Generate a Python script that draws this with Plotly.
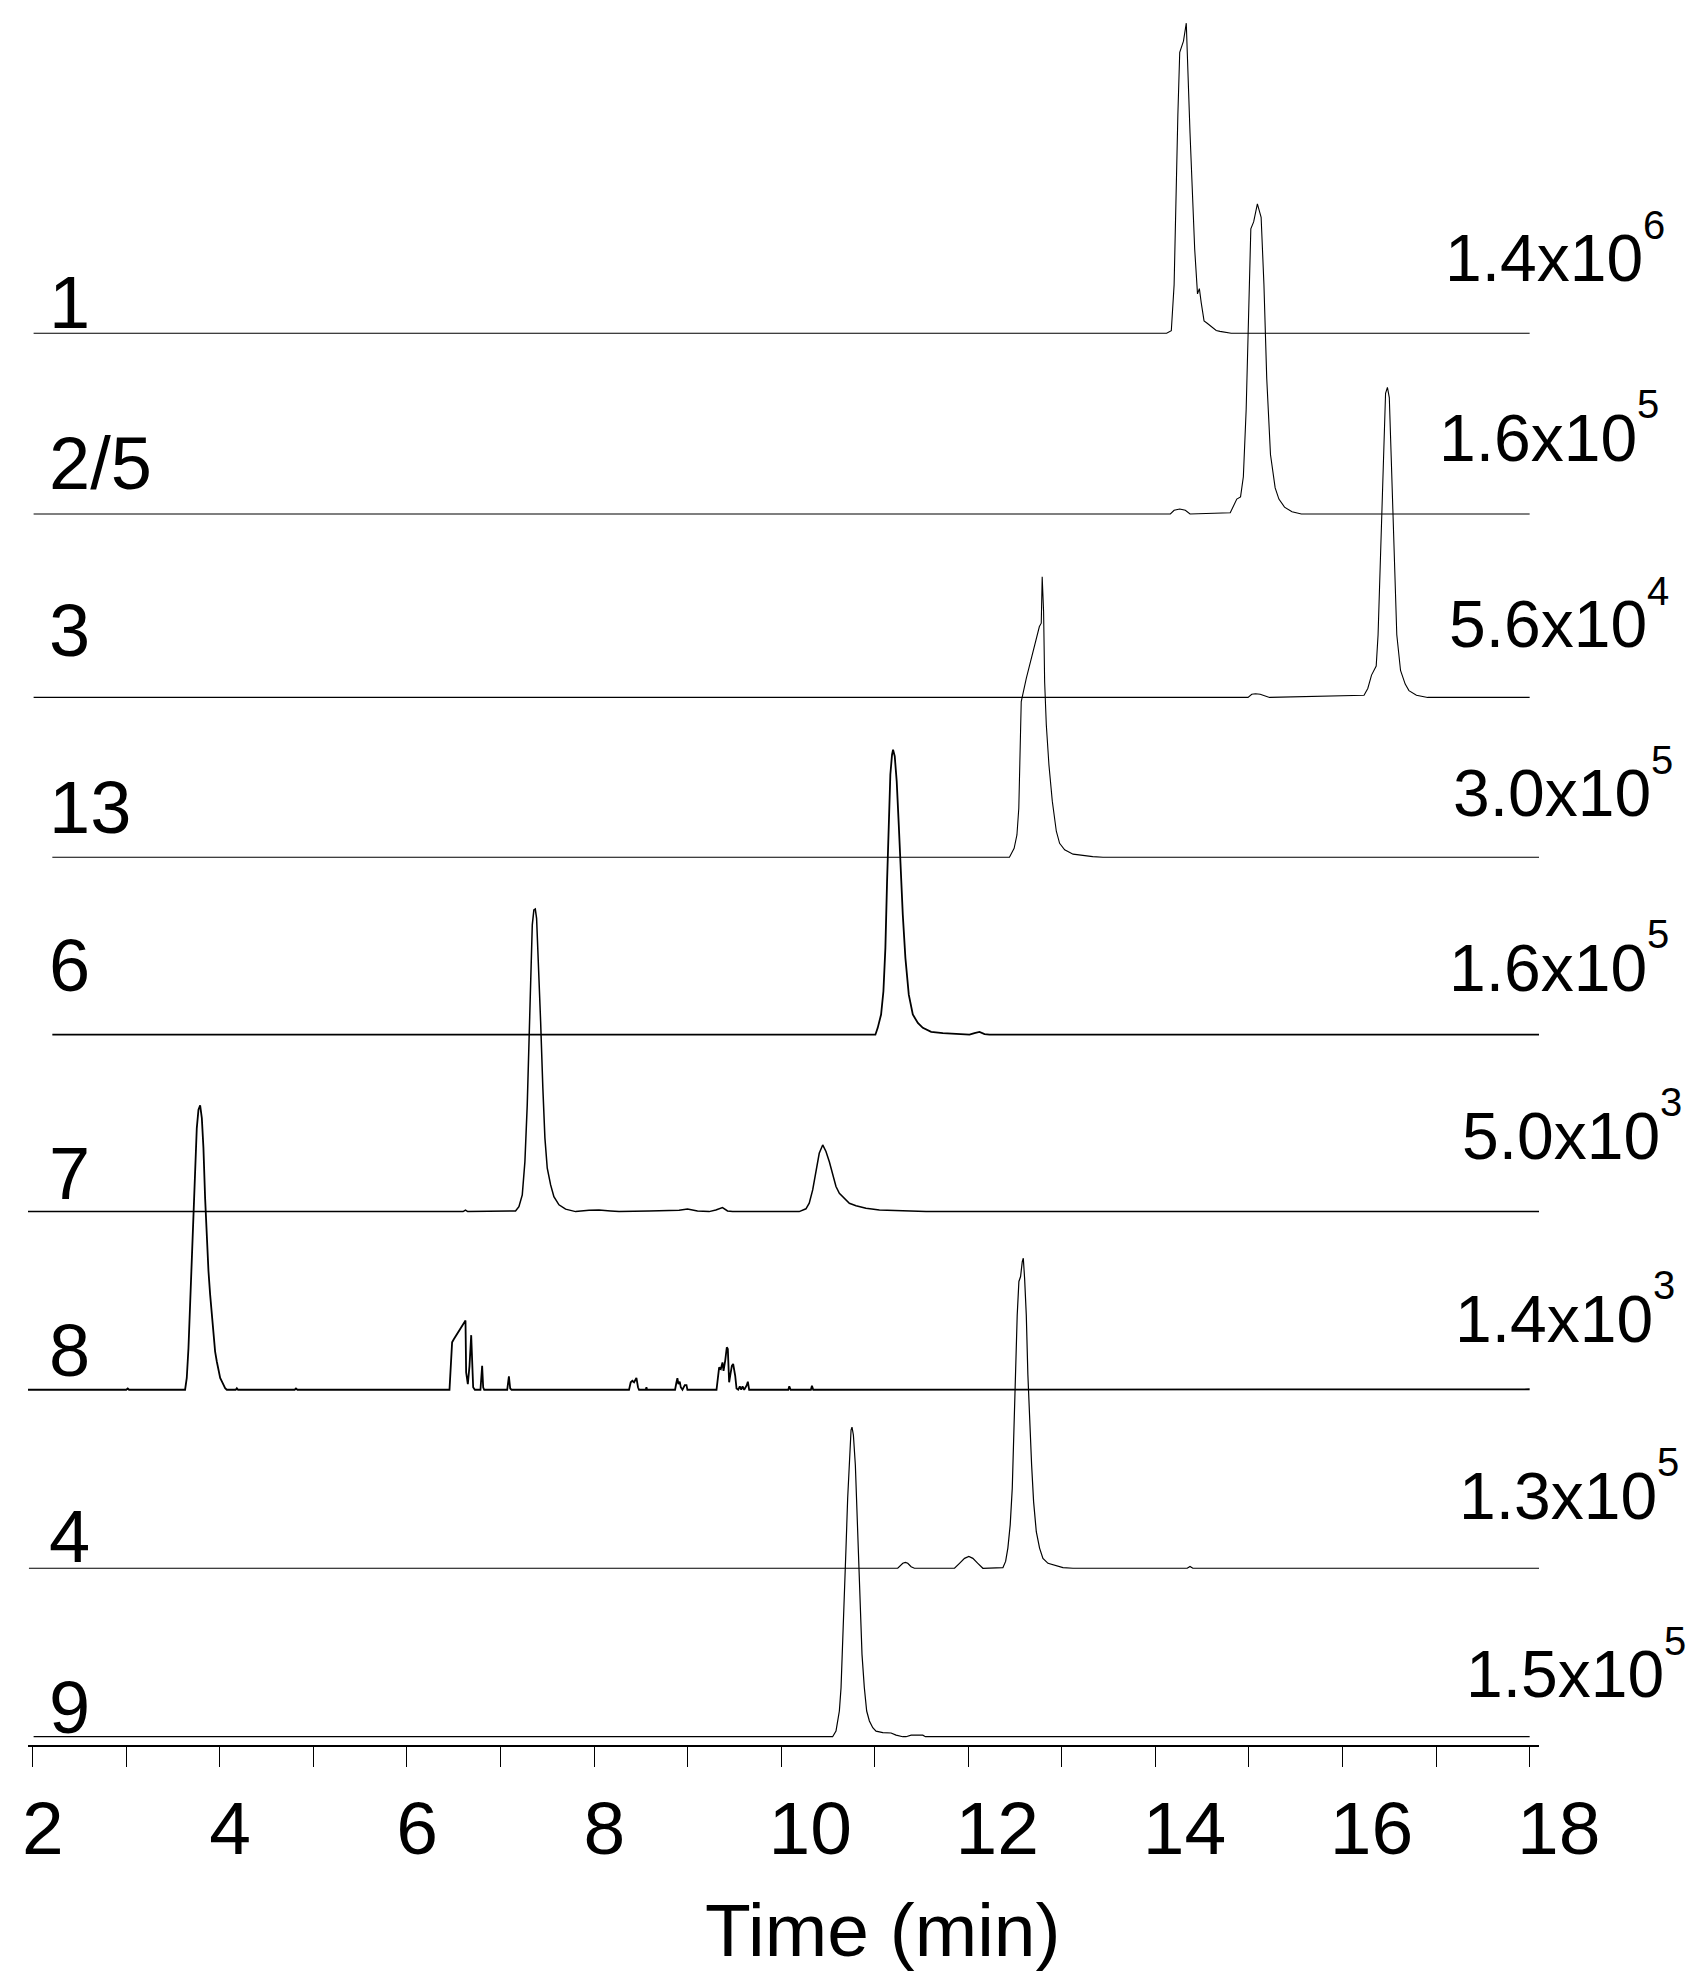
import plotly.graph_objects as go

# ---------------- data ----------------
compound_labels = ["1", "2/5", "3", "13", "6", "7", "8", "4", "9"]
scale_mantissa = ["1.4x10", "1.6x10", "5.6x10", "3.0x10", "1.6x10", "5.0x10", "1.4x10", "1.3x10", "1.5x10"]
scale_exponent = ["6", "5", "4", "5", "5", "3", "3", "5", "5"]

x_tick_values = [2, 3, 4, 5, 6, 7, 8, 9, 10, 11, 12, 13, 14, 15, 16, 17, 18]
x_tick_labels = ["2", "", "4", "", "6", "", "8", "", "10", "", "12", "", "14", "", "16", "", "18"]

# relative intensity (% of full scale) vs retention time (min)
time_1 = [2.01, 14.12, 14.17, 14.20, 14.24, 14.26, 14.30, 14.33, 14.37, 14.42, 14.45, 14.47,
          14.49, 14.52, 14.55, 14.59, 14.65, 14.69, 14.81, 18.0]
int_1 = [0, 0, 0.8, 15.6, 70.4, 90.6, 94.2, 100, 64.6, 27.1, 12.7, 14.4,
         9.8, 4.0, 3.3, 2.3, 0.9, 0.6, 0, 0]

time_25 = [2.01, 14.16, 14.20, 14.26, 14.32, 14.37, 14.80, 14.87, 14.91, 14.94, 14.97, 15.01,
           15.02, 15.05, 15.09, 15.13, 15.16, 15.19, 15.23, 15.28, 15.32, 15.38, 15.46, 15.56, 18.0]
int_25 = [0, 0, 1.2, 1.6, 1.2, 0, 0.4, 4.8, 5.5, 12.0, 33.6, 76.9,
          92.0, 94.2, 100, 95.7, 74.0, 43.7, 19.2, 8.4, 4.8, 2.2, 0.7, 0, 0]

time_3 = [2.01, 14.99, 15.03, 15.07, 15.12, 15.22, 16.23, 16.27, 16.31, 16.36, 16.38, 16.41,
          16.44, 16.46, 16.48, 16.50, 16.52, 16.55, 16.58, 16.62, 16.67, 16.71, 16.79, 16.91, 18.0]
int_3 = [0, 0, 1.0, 1.2, 1.0, 0, 0.7, 2.9, 7.2, 10.1, 20.2, 49.1,
         77.9, 98.1, 100, 96.7, 77.9, 49.1, 20.2, 8.7, 4.3, 2.2, 0.7, 0, 0]

time_13 = [2.21, 12.44, 12.49, 12.52, 12.54, 12.555, 12.566, 12.62, 12.69, 12.76, 12.78, 12.79,
           12.805, 12.816, 12.834, 12.862, 12.898, 12.941, 12.976, 13.03, 13.12, 13.23, 13.33, 13.44, 18.1]
int_13 = [0, 0, 2.9, 7.2, 15.8, 35.2, 50.2, 57.7, 66.3, 74.4, 75.5, 90.5,
          79.2, 56.7, 42.7, 29.8, 18.1, 8.4, 4.5, 2.4, 1.0, 0.5, 0.2, 0, 0]

time_6 = [2.21, 11.007, 11.032, 11.068, 11.093, 11.114, 11.132, 11.150, 11.167, 11.185, 11.196,
          11.214, 11.235, 11.257, 11.274, 11.300, 11.328, 11.364, 11.407, 11.461, 11.514, 11.603,
          11.728, 11.906, 12.013, 12.066, 12.12, 12.174, 12.227, 18.1]
int_6 = [0, 0, 2.2, 6.5, 14.0, 28.0, 49.5, 71.0, 83.9, 90.3, 91.9,
         89.8, 81.7, 67.7, 54.8, 38.7, 24.7, 12.9, 6.5, 3.8, 2.2, 0.9,
         0.5, 0.2, 0, 0.5, 0.9, 0.2, 0, 0]

time_7 = [1.95, 6.60, 6.626, 6.65, 7.161, 7.197, 7.233, 7.261, 7.286, 7.304, 7.322, 7.340,
          7.357, 7.372, 7.386, 7.404, 7.429, 7.453, 7.475, 7.500, 7.536, 7.571, 7.625, 7.696,
          7.803, 7.946, 8.053, 8.178, 8.267, 8.588, 8.731, 8.838, 8.909, 8.999, 9.106, 9.230,
          9.302, 9.373, 9.427, 9.481, 10.193, 10.265, 10.300, 10.337, 10.372, 10.407, 10.444,
          10.479, 10.515, 10.550, 10.586, 10.622, 10.675, 10.729, 10.800, 10.907, 11.050,
          11.228, 11.407, 11.549, 18.1]
int_7 = [0, 0, 0.5, 0, 0.2, 1.6, 5.4, 16.1, 34.4, 55.9, 77.4, 92.5,
         97.3, 97.6, 94.6, 82.8, 61.3, 39.8, 23.7, 14.0, 8.6, 4.8, 2.2, 0.8,
         0, 0.4, 0.5, 0.2, 0, 0.2, 0.2, 0.4, 0.4, 0.8, 0.2, 0,
         0.5, 1.3, 0.2, 0, 0, 0.9, 2.7, 7.0, 12.9, 18.8, 21.5,
         19.4, 16.1, 11.8, 8.1, 5.9, 4.3, 2.7, 1.9, 1.1, 0.5,
         0.4, 0.2, 0, 0]

time_8 = [1.95, 3.00, 3.016, 3.03, 3.629, 3.647, 3.665, 3.683, 3.701, 3.718, 3.736, 3.754,
          3.772, 3.790, 3.808, 3.825, 3.843, 3.861, 3.879, 3.897, 3.915, 3.932, 3.950, 3.968,
          3.986, 4.004, 4.022, 4.039, 4.057, 4.075, 4.17, 4.182, 4.195, 4.80, 4.814, 4.83,
          6.455, 6.483, 6.501, 6.626, 6.633, 6.651, 6.669, 6.687, 6.697, 6.708, 6.726,
          6.786, 6.804, 6.815, 6.826, 7.072, 7.090, 7.104, 7.118,
          8.374, 8.392, 8.410, 8.428, 8.453, 8.470, 8.481, 8.552, 8.560, 8.567,
          8.866, 8.881, 8.891, 8.902, 8.916, 8.927, 8.945, 8.970, 8.988, 8.998,
          9.309, 9.337, 9.355, 9.373, 9.384, 9.402, 9.419, 9.430, 9.444, 9.455, 9.473,
          9.487, 9.509, 9.523, 9.541, 9.558, 9.573, 9.587, 9.605, 9.630, 9.644, 9.658,
          10.076, 10.087, 10.101, 10.318, 10.329, 10.343,
          17.00, 17.04, 17.08, 17.12, 17.16, 17.20, 17.24, 17.28, 17.32, 17.36, 17.40, 17.44,
          17.48, 17.52, 17.56, 17.60, 17.64, 17.68, 17.72, 17.76, 17.80, 17.84, 17.88, 17.92, 18.0]
int_8 = [0, 0, 0.4, 0, 0, 3.8, 13.4, 27.4, 43.5, 57.5, 72.6, 84.4,
         90.3, 91.7, 87.6, 78.0, 61.8, 47.8, 38.2, 30.6, 24.2, 17.7, 12.3, 9.1,
         5.9, 3.8, 2.7, 1.6, 0.5, 0, 0, 0.5, 0, 0, 0.4, 0,
         0, 15.3, 16.3, 22.3, 5.6, 1.8, 7.7, 17.6, 7.7, 0.8, 0,
         0, 7.7, 0.8, 0, 0, 4.3, 0.4, 0,
         0, 2.4, 2.9, 2.4, 3.8, 0.8, 0, 0, 0.8, 0,
         0, 2.4, 3.7, 1.8, 2.6, 0.8, 0, 1.5, 1.5, 0,
         0, 7.2, 6.7, 8.8, 6.1, 9.4, 13.7, 13.1, 2.4, 4.5, 7.7,
         8.3, 4.5, 0.4, 0, 1.1, 0, 1.1, 0, 1.3, 2.6, 0,
         0, 1.1, 0, 0, 1.3, 0,
         0, 0.15, 0, 0.15, 0, 0.15, 0, 0.15, 0, 0.15, 0, 0.15,
         0, 0.15, 0, 0.15, 0, 0.15, 0, 0.15, 0, 0.15, 0, 0.15, 0.15]

time_4 = [1.96, 11.246, 11.300, 11.328, 11.353, 11.389, 11.424, 11.853, 11.906, 11.960, 12.006,
          12.049, 12.102, 12.156, 12.370, 12.399, 12.423, 12.448, 12.470, 12.488, 12.505, 12.523,
          12.541, 12.559, 12.577, 12.588, 12.602, 12.620, 12.637, 12.655, 12.677, 12.698, 12.727,
          12.762, 12.798, 12.852, 12.923, 13.012, 13.119, 14.34, 14.37, 14.40, 18.1]
int_4 = [0, 0, 1.6, 1.9, 1.6, 0.5, 0, 0, 1.6, 3.2, 3.8,
         3.2, 1.6, 0, 0.2, 2.2, 6.5, 14.0, 25.8, 44.1, 65.6, 81.7,
         92.5, 94.1, 98.9, 100, 93.5, 81.7, 62.4, 47.3, 33.3, 21.5, 11.8,
         6.5, 3.2, 1.6, 0.9, 0.2, 0, 0, 0.6, 0, 0]

time_9 = [2.01, 10.550, 10.586, 10.622, 10.640, 10.657, 10.675, 10.693, 10.711, 10.729, 10.747,
          10.757, 10.772, 10.793, 10.811, 10.829, 10.847, 10.864, 10.889, 10.914, 10.943, 10.979,
          11.014, 11.086, 11.175, 11.228, 11.300, 11.335, 11.389, 11.514, 11.542, 18.0]
int_9 = [0, 0, 1.8, 8.3, 15.8, 28.7, 44.8, 61.0, 77.1, 91.1, 99.1,
         100, 97.5, 87.8, 71.7, 55.6, 39.5, 26.6, 15.8, 8.3, 5.1, 2.9,
         1.8, 1.3, 1.2, 0.5, 0, 0, 0.5, 0.5, 0, 0]

series_times = [time_1, time_25, time_3, time_13, time_6, time_7, time_8, time_4, time_9]
series_ints = [int_1, int_25, int_3, int_13, int_6, int_7, int_8, int_4, int_9]

# ---------------- layout (pixels) ----------------
W, H = 1696, 1984
X_LO, X_HI = 1.95, 18.1
PX_PER_MIN = 93.53
X2_PX = 25.0                      # pixel column of t = 2 min
M_L = X2_PX - (2 - X_LO) * PX_PER_MIN
PLOT_W = (X_HI - X_LO) * PX_PER_MIN
M_R = W - M_L - PLOT_W
AXIS_PX = 1737.7                  # pixel row of the time axis line
M_T, M_B = 0, H - AXIS_PX
PLOT_H = H - M_T - M_B
PX_PER_UNIT = 3.1                 # pixels per % of full scale
Y_LO, Y_HI = -3, 103
FONT = "Liberation Sans, Arial, sans-serif"

baseline_px = [325.2, 505.9, 689.3, 849.1, 1026.5, 1203.4, 1381.5, 1560.0, 1729.0]
line_widths = [1.1, 1.1, 1.1, 1.1, 1.8, 1.5, 1.8, 1.2, 1.2]

LEFT_SIZE, RIGHT_SIZE, SUP_SIZE, TICK_SIZE, TITLE_SIZE = 74, 66, 40, 75, 75
LEFT_LABEL_X = 41
left_label_rise = [4.6, 25, 41, 24, 43, 12, 13, 6, 4]
right_label_left_px = [1437, 1431, 1441, 1445, 1441, 1454, 1447, 1451, 1458]
right_label_rise = [52, 53, 50, 41, 44, 53, 48, 49.5, 40]
SUP_GAP = 0
SUP_RAISE = 43
TITLE_X, TITLE_BASE = 875, 1948


def paper_y(px):
    return (M_T + PLOT_H - px) / PLOT_H


def paper_x(px):
    return (px - M_L) / PLOT_W


def text_bottom(baseline_row, size):
    # paper y of an annotation box bottom whose text baseline sits on baseline_row
    return paper_y(baseline_row + 0.212 * size)


fig = go.Figure()
layout_axes = {}
annotations = []
n = len(compound_labels)
mantissa_width = 3.0 * RIGHT_SIZE   # advance of "d.dx10" in Arial metrics
for k in range(n):
    ax_id = "y" if k == n - 1 else "y%d" % (n - k)
    ax_key = "yaxis" if k == n - 1 else "yaxis%d" % (n - k)
    fig.add_trace(go.Scatter(
        x=series_times[k], y=series_ints[k], xaxis="x", yaxis=ax_id,
        mode="lines", line=dict(color="black", width=line_widths[k]),
        showlegend=False, hoverinfo="skip"))
    b = baseline_px[k]
    dom_bottom = max(0.0, paper_y(b - Y_LO * PX_PER_UNIT))
    dom_top = min(1.0, paper_y(b - Y_HI * PX_PER_UNIT))
    layout_axes[ax_key] = dict(domain=[dom_bottom, dom_top], range=[Y_LO, Y_HI],
                               visible=False, anchor="x", fixedrange=True)
    annotations.append(dict(
        text=compound_labels[k], xref="paper", yref="paper",
        x=paper_x(LEFT_LABEL_X), y=text_bottom(b - left_label_rise[k], LEFT_SIZE),
        xanchor="left", yanchor="bottom", showarrow=False,
        borderpad=0, borderwidth=0,
        font=dict(family=FONT, size=LEFT_SIZE, color="black")))
    annotations.append(dict(
        text=scale_mantissa[k], xref="paper", yref="paper",
        x=paper_x(right_label_left_px[k]), y=text_bottom(b - right_label_rise[k], RIGHT_SIZE),
        xanchor="left", yanchor="bottom", showarrow=False,
        borderpad=0, borderwidth=0,
        font=dict(family=FONT, size=RIGHT_SIZE, color="black")))
    annotations.append(dict(
        text=scale_exponent[k], xref="paper", yref="paper",
        x=paper_x(right_label_left_px[k] + mantissa_width + SUP_GAP),
        y=text_bottom(b - right_label_rise[k] - SUP_RAISE, SUP_SIZE),
        xanchor="left", yanchor="bottom", showarrow=False,
        borderpad=0, borderwidth=0,
        font=dict(family=FONT, size=SUP_SIZE, color="black")))

# axis title
annotations.append(dict(
    text="Time (min)", xref="paper", yref="paper",
    x=paper_x(TITLE_X), y=text_bottom(TITLE_BASE, TITLE_SIZE),
    xanchor="center", yanchor="bottom", showarrow=False,
    borderpad=0, borderwidth=0,
    font=dict(family=FONT, size=TITLE_SIZE, color="black")))

# one-digit labels get a trailing en space so labels start just left of their tick
tick_text = [t + "\u2002" if len(t) == 1 else t for t in x_tick_labels]

fig.update_layout(
    width=W, height=H,
    margin=dict(l=M_L, r=M_R, t=M_T, b=M_B, pad=0),
    paper_bgcolor="white", plot_bgcolor="rgba(0,0,0,0)",
    showlegend=False,
    xaxis=dict(
        domain=[0, 1], range=[X_LO, X_HI], anchor="free", position=0,
        showline=True, linecolor="black", linewidth=2.2,
        showgrid=False, zeroline=False,
        ticks="outside", ticklen=20, tickwidth=1.2, tickcolor="black",
        tickmode="array", tickvals=x_tick_values, ticktext=tick_text,
        tickfont=dict(family=FONT, size=TICK_SIZE, color="black"),
        ticklabelstandoff=-3, ticklabelshift=29, fixedrange=True),
    annotations=annotations,
    **layout_axes,
)

fig.write_html("out.html")
